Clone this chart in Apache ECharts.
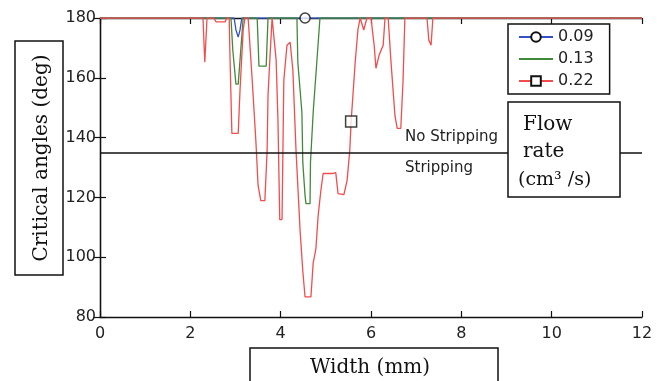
<!DOCTYPE html>
<html>
<head>
<meta charset="utf-8">
<script src="https://cdn.jsdelivr.net/npm/echarts@6/dist/echarts.min.js"></script>
<style>
html,body{margin:0;padding:0;background:#fff;}
#chart{width:659px;height:381px;}
</style>
</head>
<body>
<div id="chart"></div>
<script>
// ---- data ----
const seriesNames = ['0.09', '0.13', '0.22'];

const rate009X = [0, 2.97, 3.01, 3.06, 3.10, 3.14, 12];
const rate009Y = [180, 180, 176, 173.6, 176, 180, 180];

const rate013X = [0, 2.90, 2.94, 3.01, 3.06, 3.10, 3.17, 3.48, 3.52, 3.68, 3.72,
  4.36, 4.38, 4.47, 4.49, 4.54, 4.56, 4.65, 4.66, 4.72, 4.80, 4.87, 12];
const rate013Y = [180, 180, 169.3, 157.9, 157.9, 165.9, 180, 180, 163.9, 163.9, 180,
  180, 165.2, 148.5, 131.7, 120.6, 117.9, 117.9, 131.7, 148.5, 165.2, 180, 180];

const rate022X = [0, 2.28, 2.32, 2.37, 2.52, 2.57, 2.77, 2.81, 2.86, 2.88, 2.92, 3.06,
  3.10, 3.17, 3.21, 3.28, 3.37, 3.45, 3.50, 3.56, 3.65, 3.70, 3.72, 3.76, 3.81, 3.85,
  3.90, 3.94, 3.98, 4.03, 4.07, 4.14, 4.21, 4.27, 4.34, 4.43, 4.49, 4.54, 4.67, 4.72,
  4.78, 4.83, 4.89, 4.94, 5.16, 5.22, 5.27, 5.40, 5.47, 5.53, 5.56, 5.65, 5.71, 5.76,
  5.80, 5.84, 5.91, 6.00, 6.07, 6.11, 6.18, 6.27, 6.31, 6.38, 6.44, 6.53, 6.58, 6.66,
  6.71, 6.75, 7.24, 7.28, 7.33, 7.37, 12];
const rate022Y = [180, 180, 165.2, 180, 180, 178.7, 178.7, 180, 180, 165.9, 141.4, 141.4,
  155.8, 176, 180, 180, 159.2, 139.1, 124, 118.9, 118.9, 135.7, 154.2, 165.9, 180, 180,
  165.9, 145.8, 112.6, 112.6, 159.2, 170.9, 171.9, 162.6, 135.7, 108.9, 95.4, 86.7, 86.7, 98.1,
  102.8, 113.9, 122.3, 128, 128, 128.3, 121.3, 120.9, 125.6, 135.7, 145.4, 165.2, 176, 180,
  180, 176, 180, 180, 170.9, 163.2, 167.6, 170.9, 180, 180, 165.9, 147.4, 143.1, 143.1,
  159.2, 180, 180, 172.6, 170.9, 180, 180];

// marker positions drawn by the original plot
const marker009 = [4.54, 180];
const marker022 = [5.56, 145.4];

const thresholdAngle = 135;
const xTicks = {min: 0, max: 12, interval: 2};
const yTicks = {min: 80, max: 180, interval: 20};

// ---- chart ----
const zip = (xs, ys) => xs.map((x, i) => [x, ys[i]]);
const colors = ['#3550c4', '#3f8a3a', '#f24c4c'];
const sansFont = 'DejaVu Sans';
const serifFont = 'DejaVu Serif';

const chart = echarts.init(document.getElementById('chart'), null, {renderer: 'canvas'});

const axisCommon = {
  axisLine: {show: true, lineStyle: {color: '#111', width: 1.3}},
  axisTick: {show: true, inside: true, length: 6, lineStyle: {color: '#111', width: 1.2}},
  splitLine: {show: false}
};

const option = {
  backgroundColor: '#fff',
  animation: false,
  grid: {left: 100, right: 17, top: 18, bottom: 64, containLabel: false},
  legend: {
    data: seriesNames,
    orient: 'vertical',
    left: 508, top: 24,
    itemWidth: 34, itemHeight: 12, itemGap: 6,
    padding: [5, 16, 5, 10],
    borderColor: '#111', borderWidth: 1.5,
    backgroundColor: '#fff',
    textStyle: {fontFamily: sansFont, fontSize: 16, color: '#222'}
  },
  xAxis: [
    Object.assign({}, axisCommon, {
      type: 'value', min: xTicks.min, max: xTicks.max, interval: xTicks.interval,
      position: 'bottom',
      axisLabel: {fontFamily: sansFont, fontSize: 16, color: '#222', margin: 9}
    }),
    Object.assign({}, axisCommon, {
      type: 'value', min: xTicks.min, max: xTicks.max, interval: xTicks.interval,
      position: 'top', axisLabel: {show: false}
    })
  ],
  yAxis: [
    Object.assign({}, axisCommon, {
      type: 'value', min: yTicks.min, max: yTicks.max, interval: yTicks.interval,
      position: 'left',
      axisLabel: {fontFamily: sansFont, fontSize: 16, color: '#222', margin: 4}
    }),
    Object.assign({}, axisCommon, {
      type: 'value', min: yTicks.min, max: yTicks.max, interval: yTicks.interval,
      position: 'right', axisLabel: {show: false}
    })
  ],
  series: [
    {
      name: seriesNames[0], type: 'line', data: zip(rate009X, rate009Y),
      symbol: 'circle', symbolSize: 10, showSymbol: false,
      itemStyle: {color: '#fff', borderColor: '#111', borderWidth: 1.5},
      lineStyle: {color: colors[0], width: 1.3},
      z: 2,
      markLine: {
        silent: true, symbol: 'none',
        label: {show: false},
        lineStyle: {color: '#111', width: 1.5, type: 'solid'},
        data: [{yAxis: thresholdAngle}]
      }
    },
    {
      name: seriesNames[1], type: 'line', data: zip(rate013X, rate013Y),
      symbol: 'circle', symbolSize: 1, showSymbol: false,
      lineStyle: {color: colors[1], width: 1.3},
      itemStyle: {color: 'rgba(0,0,0,0)', borderWidth: 0},
      z: 3
    },
    {
      name: seriesNames[2], type: 'line', data: zip(rate022X, rate022Y),
      symbol: 'rect', symbolSize: 11, showSymbol: false,
      itemStyle: {color: '#fff', borderColor: '#111', borderWidth: 1.5},
      lineStyle: {color: colors[2], width: 1.3},
      z: 4
    },
    {
      name: 'm009', type: 'scatter', data: [marker009],
      symbol: 'circle', symbolSize: 10,
      itemStyle: {color: '#fff', borderColor: '#111', borderWidth: 1.5},
      z: 6
    },
    {
      name: 'm022', type: 'scatter', data: [marker022],
      symbol: 'rect', symbolSize: 11,
      itemStyle: {color: '#fff', borderColor: '#111', borderWidth: 1.5},
      z: 6
    }
  ],
  graphic: [
    // y-axis title box
    {type: 'rect', shape: {x: 15, y: 41, width: 48, height: 234},
      style: {fill: '#fff', stroke: '#111', lineWidth: 1.5}, z: 10},
    {type: 'text', x: 42, y: 158, rotation: Math.PI / 2,
      style: {text: 'Critical angles (deg)', fontFamily: serifFont, fontSize: 20,
        fill: '#111', align: 'center', verticalAlign: 'middle'}, z: 11},
    // x-axis title box
    {type: 'rect', shape: {x: 250, y: 348, width: 248, height: 45},
      style: {fill: '#fff', stroke: '#111', lineWidth: 1.5}, z: 10},
    {type: 'text', x: 370, y: 368,
      style: {text: 'Width (mm)', fontFamily: serifFont, fontSize: 20,
        fill: '#111', align: 'center', verticalAlign: 'middle'}, z: 11},
    // region labels
    {type: 'text', x: 405, y: 137,
      style: {text: 'No Stripping', fontFamily: sansFont, fontSize: 15,
        fill: '#222', align: 'left', verticalAlign: 'middle'}, z: 11},
    {type: 'text', x: 405, y: 168,
      style: {text: 'Stripping', fontFamily: sansFont, fontSize: 15,
        fill: '#222', align: 'left', verticalAlign: 'middle'}, z: 11},
    // flow rate box
    {type: 'rect', shape: {x: 508, y: 102, width: 112, height: 95},
      style: {fill: '#fff', stroke: '#111', lineWidth: 1.5}, z: 10},
    {type: 'text', x: 523, y: 125,
      style: {text: 'Flow', fontFamily: serifFont, fontSize: 20,
        fill: '#111', align: 'left', verticalAlign: 'middle'}, z: 11},
    {type: 'text', x: 523, y: 152,
      style: {text: 'rate', fontFamily: serifFont, fontSize: 20,
        fill: '#111', align: 'left', verticalAlign: 'middle'}, z: 11},
    {type: 'text', x: 518, y: 180,
      style: {text: '(cm³ /s)', fontFamily: serifFont, fontSize: 19,
        fill: '#111', align: 'left', verticalAlign: 'middle'}, z: 11}
  ]
};

chart.setOption(option);
</script>
</body>
</html>
